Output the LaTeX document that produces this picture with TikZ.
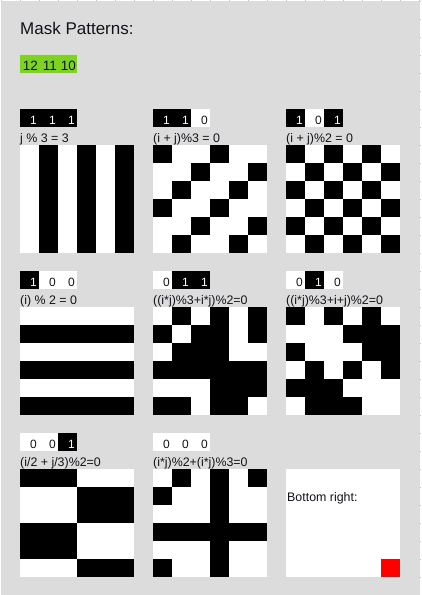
\documentclass[tikz,border=0pt]{standalone}
\usepackage{fontspec}
\setmainfont{Liberation Sans}
\definecolor{bg}{HTML}{DCDCDC}
\definecolor{gridline}{HTML}{C4C4C4}
\definecolor{maskgreen}{HTML}{7ED321}
\definecolor{txt}{HTML}{10141A}
\tikzset{
  lbl/.style={anchor=base west,inner sep=0pt,font=\fontsize{12.4}{14}\selectfont,text=txt},
  bitnum/.style={anchor=base east,inner sep=0pt,font=\fontsize{12}{14}\selectfont},
  blackcell/.style={fill=black},
}
\newcommand\bitcell[3]{%
  \ifnum#3=1 
    \fill[black] (#1,#2) rectangle ++(19,18);
    \node[bitnum,text=white] at (#1+17,#2+15) {1};
  \else
    \fill[white] (#1,#2) rectangle ++(19,18);
    \node[bitnum,text=txt] at (#1+17,#2+15) {0};
  \fi}
\newcommand\maskblock[7]{%
  \bitcell{#1}{#2-36}{#3}
  \bitcell{#1+19}{#2-36}{#4}
  \bitcell{#1+38}{#2-36}{#5}
  \node[lbl] at (#1,#2-2.5) {#6};
  \fill[white] (#1,#2) rectangle ++(114,108);
  \foreach \row [count=\i from 0] in {#7} {
    \foreach \v [count=\j from 0] in \row {
      \ifnum\v=1 \fill[blackcell] (#1+19*\j-0.2,#2+18*\i-0.2) rectangle ++(19.4,18.4);\fi
    }
  }
}
\begin{document}
\begin{tikzpicture}[x=1pt,y=-1pt]
\useasboundingbox (0,0) rectangle (421,595);
\fill[white] (0,0) rectangle (421,595);
\foreach \k in {0,...,22} \draw[gridline,line width=0.8pt] (1+19*\k,0) -- (1+19*\k,1.2);
\foreach \k in {0,...,33} \draw[gridline,line width=0.8pt] (419.5,1+18*\k) -- (421,1+18*\k);
\fill[bg] (1,1) rectangle (420,595);

\node[anchor=base west,inner sep=0pt,font=\fontsize{17}{20}\selectfont,text=txt] (title) at (20,34) {Mask Patterns:};
\fill[maskgreen] (20,55) rectangle (77,73);
\node[anchor=base east,inner sep=0pt,font=\fontsize{13.5}{16}\selectfont,text=txt] (b12) at (38,70) {12};
\node[anchor=base east,inner sep=0pt,font=\fontsize{13.5}{16}\selectfont,text=txt] (b11) at (57,70) {11};
\node[anchor=base east,inner sep=0pt,font=\fontsize{13.5}{16}\selectfont,text=txt] (b10) at (76,70) {10};

\maskblock{20}{145}{1}{1}{1}{j \% 3 = 3}{{0,1,0,1,0,1},{0,1,0,1,0,1},{0,1,0,1,0,1},{0,1,0,1,0,1},{0,1,0,1,0,1},{0,1,0,1,0,1}}
\maskblock{153}{145}{1}{1}{0}{(i + j)\%3 = 0}{{1,0,0,1,0,0},{0,0,1,0,0,1},{0,1,0,0,1,0},{1,0,0,1,0,0},{0,0,1,0,0,1},{0,1,0,0,1,0}}
\maskblock{286}{145}{1}{0}{1}{(i + j)\%2 = 0}{{1,0,1,0,1,0},{0,1,0,1,0,1},{1,0,1,0,1,0},{0,1,0,1,0,1},{1,0,1,0,1,0},{0,1,0,1,0,1}}

\maskblock{20}{307}{1}{0}{0}{(i) \% 2 = 0}{{0,0,0,0,0,0},{1,1,1,1,1,1},{0,0,0,0,0,0},{1,1,1,1,1,1},{0,0,0,0,0,0},{1,1,1,1,1,1}}
\maskblock{153}{307}{0}{1}{1}{((i*j)\%3+i*j)\%2=0}{{0,1,0,1,0,1},{1,0,1,1,0,1},{0,1,1,1,0,0},{1,1,1,1,1,1},{0,0,0,1,1,1},{1,1,0,1,1,0}}
\maskblock{286}{307}{0}{1}{0}{((i*j)\%3+i+j)\%2=0}{{1,0,1,0,1,0},{0,0,0,1,1,1},{1,0,0,0,1,1},{0,1,0,1,0,1},{1,1,1,0,0,0},{0,1,1,1,0,0}}

\maskblock{20}{469}{0}{0}{1}{(i/2 + j/3)\%2=0}{{1,1,1,0,0,0},{0,0,0,1,1,1},{0,0,0,1,1,1},{1,1,1,0,0,0},{1,1,1,0,0,0},{0,0,0,1,1,1}}
\maskblock{153}{469}{0}{0}{0}{(i*j)\%2+(i*j)\%3=0}{{0,1,0,1,0,1},{1,0,0,1,0,0},{0,0,0,1,0,0},{1,1,1,1,1,1},{0,0,0,1,0,0},{1,0,0,1,0,0}}

\fill[white] (286,469) rectangle (400,577);
\fill[red] (381,559) rectangle (400,577);
\node[lbl] (br) at (287,501) {Bottom right:};
\end{tikzpicture}
\end{document}
